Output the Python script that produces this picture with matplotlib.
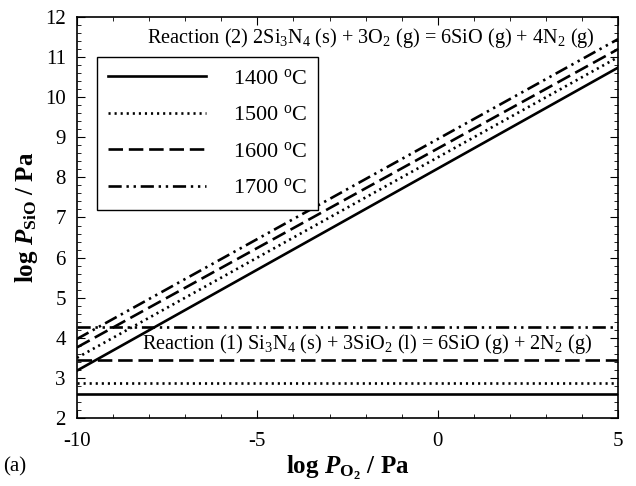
import matplotlib
matplotlib.use("Agg")
import matplotlib.pyplot as plt
import numpy as np
from matplotlib.ticker import MultipleLocator

plt.rcParams['font.family'] = ['Liberation Serif', 'DejaVu Serif']
plt.rcParams['mathtext.fontset'] = 'custom'
plt.rcParams['mathtext.rm'] = 'Liberation Serif'
plt.rcParams['mathtext.it'] = 'Liberation Serif:italic'
plt.rcParams['mathtext.bf'] = 'Liberation Serif:bold'
plt.rcParams['mathtext.bfit'] = 'Liberation Serif:italic:bold'
plt.rcParams['axes.unicode_minus'] = False

# temperatures and line styles
temps = ['1400', '1500', '1600', '1700']
# reaction (2): log P_SiO at x = -10 and x = 5
log_po2_ends = [-10, 5]
r2_start = [3.18, 3.50, 3.76, 3.97]
r2_end = [10.74, 11.00, 11.20, 11.45]
# reaction (1): constant log P_SiO
r1_level = [2.60, 2.87, 3.45, 4.28]

styles = ['-', (0, (0.8, 1.5)), (0, (5.5, 2.2)), (0, (5, 1.8, 0.9, 1.8, 0.9, 1.8))]

fig = plt.figure(figsize=(6.36, 4.86), dpi=100)
ax = fig.add_axes([0.121, 0.140, 0.851, 0.825])

for i, t in enumerate(temps):
    ax.plot(log_po2_ends, [r2_start[i], r2_end[i]], color='black', lw=1.9,
            linestyle=styles[i], label=f'{t} $^{{\\mathrm{{o}}}}$C')
    ax.plot(log_po2_ends, [r1_level[i], r1_level[i]], color='black', lw=1.9,
            linestyle=styles[i])

ax.set_xlim(-10, 5)
ax.set_ylim(2, 12)
ax.xaxis.set_major_locator(MultipleLocator(5))
ax.xaxis.set_minor_locator(MultipleLocator(1))
ax.yaxis.set_major_locator(MultipleLocator(1))
ax.yaxis.set_minor_locator(MultipleLocator(0.2))
ax.tick_params(which='both', direction='in', top=True, right=True, labelsize=15)
ax.tick_params(which='major', length=6)
ax.tick_params(which='minor', length=3)
ax.tick_params(axis='x', pad=10)
ax.tick_params(axis='y', pad=8)
for s in ax.spines.values():
    s.set_linewidth(1.2)

ax.set_xlabel(r'log $\mathbfit{P}_{\mathbf{O_2}}$ / Pa', fontsize=18, fontweight='bold',
              labelpad=2)
ax.set_ylabel(r'log $\mathbfit{P}_{\mathbf{SiO}}$ / Pa', fontsize=18, fontweight='bold')

ax.text(-8.05, 11.47, r'Reaction (2) 2Si$_3$N$_4$ (s) + 3O$_2$ (g) = 6SiO (g) + 4N$_2$ (g)',
        ha='left', va='center', fontsize=14.6)
ax.text(-8.2, 3.85, r'Reaction (1) Si$_3$N$_4$ (s) + 3SiO$_2$ (l) = 6SiO (g) + 2N$_2$ (g)',
        ha='left', va='center', fontsize=14.6)

leg = ax.legend(loc='upper left', bbox_to_anchor=(0.037, 0.9), borderaxespad=0,
                fontsize=16, frameon=True, fancybox=False, edgecolor='black',
                handlelength=4.4, labelspacing=0.72, borderpad=0.5,
                handletextpad=1.2, framealpha=1)
leg.get_frame().set_linewidth(1.0)

fig.text(0.005, 0.03, '(a)', fontsize=15)

fig.savefig('out.png', dpi=100)
